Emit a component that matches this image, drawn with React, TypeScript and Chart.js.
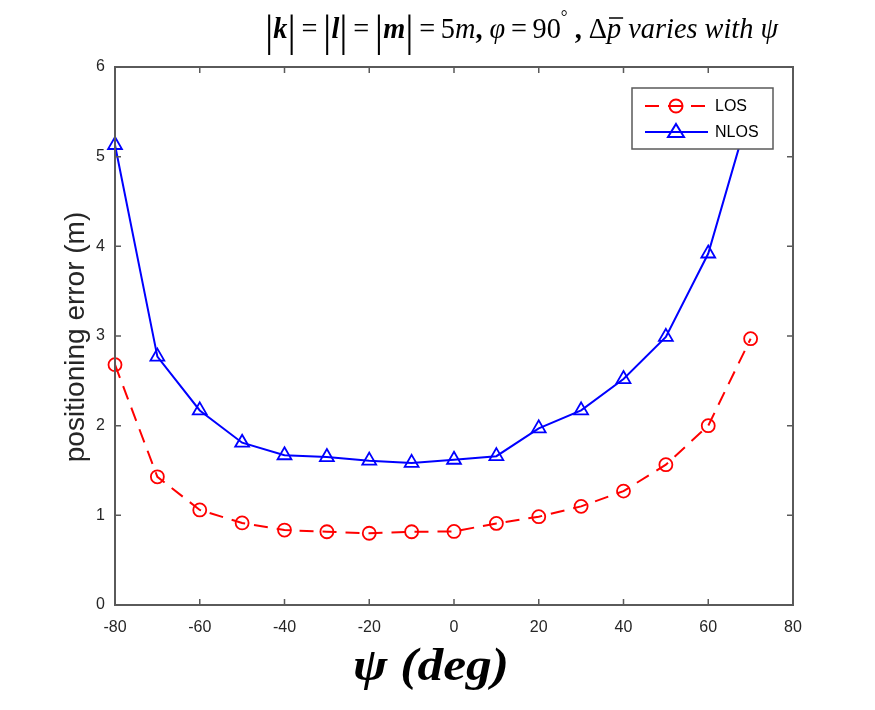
import React, { useEffect, useRef } from 'react';
import { Chart, registerables } from 'chart.js';
Chart.register(...registerables);

const psiDeg = [-80, -70, -60, -50, -40, -30, -20, -10, 0, 10, 20, 30, 40, 50, 60, 70];
const losError = [2.68, 1.43, 1.06, 0.915, 0.836, 0.817, 0.8, 0.817, 0.82, 0.91, 0.985, 1.1, 1.27, 1.565, 2.0, 2.97];
const nlosError = [5.13, 2.77, 2.17, 1.81, 1.67, 1.65, 1.61, 1.585, 1.62, 1.66, 1.97, 2.17, 2.52, 2.99, 3.92, 5.55];
const xTickValues = [-80, -60, -40, -20, 0, 20, 40, 60, 80];
const yTickValues = [0, 1, 2, 3, 4, 5, 6];
const seriesNames = ['LOS', 'NLOS'];
const yTitle = 'positioning error (m)';
const xTitle = 'ψ (deg)';

const SERIF = '"Liberation Serif", "DejaVu Serif", serif';
const SANS = '"Liberation Sans", Arial, sans-serif';

const decorPlugin = {
  id: 'decor',
  afterDatasetsDraw(chart: any) {
    const ctx = chart.ctx as CanvasRenderingContext2D;
    const { left, right, top, bottom } = chart.chartArea;
    const xs = chart.scales.x;
    const ys = chart.scales.y;
    ctx.save();
    // box
    ctx.strokeStyle = '#5a5a5a';
    ctx.lineWidth = 2;
    ctx.strokeRect(left, top, right - left, bottom - top);
    // inward ticks
    ctx.lineWidth = 1.5;
    ctx.beginPath();
    xTickValues.forEach((v) => {
      const px = xs.getPixelForValue(v);
      ctx.moveTo(px, bottom); ctx.lineTo(px, bottom - 6);
      ctx.moveTo(px, top); ctx.lineTo(px, top + 6);
    });
    yTickValues.forEach((v) => {
      const py = ys.getPixelForValue(v);
      ctx.moveTo(left, py); ctx.lineTo(left + 6, py);
      ctx.moveTo(right, py); ctx.lineTo(right - 6, py);
    });
    ctx.stroke();

    // legend
    const lx = 632, ly = 88, lw = 141, lh = 61;
    ctx.fillStyle = '#fff';
    ctx.fillRect(lx, ly, lw, lh);
    ctx.strokeStyle = '#5a5a5a';
    ctx.lineWidth = 1.5;
    ctx.strokeRect(lx, ly, lw, lh);
    const rows = [ly + 18, ly + 44];
    // LOS
    ctx.strokeStyle = 'rgb(255,0,0)';
    ctx.lineWidth = 2;
    ctx.setLineDash([14, 9]);
    ctx.beginPath();
    ctx.moveTo(645, rows[0]); ctx.lineTo(708, rows[0]);
    ctx.stroke();
    ctx.setLineDash([]);
    ctx.beginPath();
    ctx.arc(676, rows[0], 6.5, 0, Math.PI * 2);
    ctx.stroke();
    // NLOS
    ctx.strokeStyle = 'rgb(0,0,255)';
    ctx.beginPath();
    ctx.moveTo(645, rows[1]); ctx.lineTo(708, rows[1]);
    ctx.stroke();
    ctx.beginPath();
    ctx.moveTo(676, rows[1] - 8);
    ctx.lineTo(684, rows[1] + 5);
    ctx.lineTo(668, rows[1] + 5);
    ctx.closePath();
    ctx.stroke();
    ctx.fillStyle = '#000';
    ctx.font = `16px ${SANS}`;
    ctx.textBaseline = 'middle';
    ctx.textAlign = 'left';
    ctx.fillText(seriesNames[0], 715, rows[0] + 1);
    ctx.fillText(seriesNames[1], 715, rows[1] + 1);

    // y-axis title
    ctx.save();
    ctx.translate(76, 337);
    ctx.rotate(-Math.PI / 2);
    ctx.textAlign = 'center';
    ctx.textBaseline = 'middle';
    ctx.fillStyle = '#262626';
    ctx.font = `28px ${SANS}`;
    ctx.fillText(yTitle, 0, 0);
    ctx.restore();

    // x-axis title
    ctx.save();
    ctx.translate(431, 680);
    ctx.scale(1.12, 1);
    ctx.textAlign = 'center';
    ctx.textBaseline = 'alphabetic';
    ctx.fillStyle = '#000';
    ctx.font = `italic bold 46px ${SERIF}`;
    ctx.fillText(xTitle, 0, 0);
    ctx.restore();

    // math title
    const fs = 30;
    const BAR = `${fs + 14}px ${SERIF}`;
    const segs: { t: string; f: string; bar?: boolean; big?: boolean; sup?: boolean }[] = [
      { t: '|', f: BAR, big: true },
      { t: 'k', f: `italic bold ${fs}px ${SERIF}` },
      { t: '|', f: BAR, big: true },
      { t: '\u2009=\u2009', f: `${fs}px ${SERIF}` },
      { t: '|', f: BAR, big: true },
      { t: 'l', f: `italic bold ${fs}px ${SERIF}` },
      { t: '|', f: BAR, big: true },
      { t: '\u2009=\u2009', f: `${fs}px ${SERIF}` },
      { t: '|', f: BAR, big: true },
      { t: 'm', f: `italic bold ${fs}px ${SERIF}` },
      { t: '|', f: BAR, big: true },
      { t: '\u2009=\u20095', f: `${fs}px ${SERIF}` },
      { t: 'm', f: `italic ${fs}px ${SERIF}` },
      { t: ', ', f: `bold ${fs}px ${SERIF}` },
      { t: 'φ', f: `italic ${fs}px ${SERIF}` },
      { t: '\u2009=\u200990', f: `${fs}px ${SERIF}` },
      { t: '°', f: `${fs - 12}px ${SERIF}`, sup: true },
      { t: ' , ', f: `bold ${fs}px ${SERIF}` },
      { t: 'Δ', f: `${fs}px ${SERIF}` },
      { t: 'p', f: `italic ${fs}px ${SERIF}`, bar: true },
      { t: ' varies with ψ', f: `italic ${fs}px ${SERIF}` },
    ];
    let total = 0;
    const widths = segs.map((s) => { ctx.font = s.f; const w = ctx.measureText(s.t).width; total += w; return w; });
    const targetW = 513;
    const sx = targetW / total;
    const base = 38;
    ctx.save();
    ctx.translate(265, 0);
    ctx.scale(sx, 1);
    let cx = 0;
    ctx.textAlign = 'left';
    ctx.textBaseline = 'alphabetic';
    ctx.fillStyle = '#000';
    segs.forEach((s, i) => {
      ctx.font = s.f;
      const y = s.big ? base + 8 : s.sup ? base - 15 : base;
      ctx.fillText(s.t, cx, y);
      if (s.bar) {
        ctx.strokeStyle = '#000';
        ctx.lineWidth = 1.5;
        ctx.beginPath();
        ctx.moveTo(cx + 2, base - 20);
        ctx.lineTo(cx + widths[i] + 2, base - 20);
        ctx.stroke();
      }
      cx += widths[i];
    });
    ctx.restore();
    ctx.restore();
  },
};

export default function App() {
  const ref = useRef<HTMLCanvasElement | null>(null);
  useEffect(() => {
    if (!ref.current) return;
    const chart = new Chart(ref.current, {
      type: 'line',
      data: {
        datasets: [
          {
            label: seriesNames[0],
            data: psiDeg.map((x, i) => ({ x, y: losError[i] })),
            borderColor: 'rgb(255,0,0)',
            borderWidth: 2,
            borderDash: [14, 9],
            pointStyle: 'circle',
            pointRadius: 6.5,
            pointBorderWidth: 1.8,
            pointBorderColor: 'rgb(255,0,0)',
            pointBackgroundColor: 'rgba(0,0,0,0)',
            tension: 0,
            clip: false as any,
          },
          {
            label: seriesNames[1],
            data: psiDeg.map((x, i) => ({ x, y: nlosError[i] })),
            borderColor: 'rgb(0,0,255)',
            borderWidth: 2,
            pointStyle: 'triangle',
            pointRadius: 8,
            pointBorderWidth: 1.8,
            pointBorderColor: 'rgb(0,0,255)',
            pointBackgroundColor: 'rgba(0,0,0,0)',
            tension: 0,
            clip: false as any,
          },
        ],
      },
      options: {
        animation: false,
        responsive: false,
        events: [],
        layout: { padding: { left: 0, top: 67, right: 82, bottom: 0 } },
        plugins: { legend: { display: false }, title: { display: false }, tooltip: { enabled: false } },
        scales: {
          x: {
            type: 'linear',
            min: -80,
            max: 80,
            grid: { display: false, drawTicks: false },
            border: { display: false },
            afterBuildTicks: (s: any) => { s.ticks = xTickValues.map((v) => ({ value: v })); },
            afterFit: (s: any) => { s.height = 105; },
            ticks: { color: '#262626', font: { family: SANS, size: 16 }, padding: 13, maxRotation: 0 },
          },
          y: {
            type: 'linear',
            min: 0,
            max: 6,
            grid: { display: false, drawTicks: false },
            border: { display: false },
            afterBuildTicks: (s: any) => { s.ticks = yTickValues.map((v) => ({ value: v })); },
            afterFit: (s: any) => { s.width = 115; },
            ticks: { color: '#262626', font: { family: SANS, size: 16 }, padding: 10 },
          },
        },
      },
      plugins: [decorPlugin],
    });
    return () => chart.destroy();
  }, []);
  return (
    <div style={{ position: 'absolute', left: 0, top: 0, width: 875, height: 710, background: '#fff' }}>
      <canvas ref={ref} width={875} height={710} style={{ display: 'block' }} />
    </div>
  );
}
